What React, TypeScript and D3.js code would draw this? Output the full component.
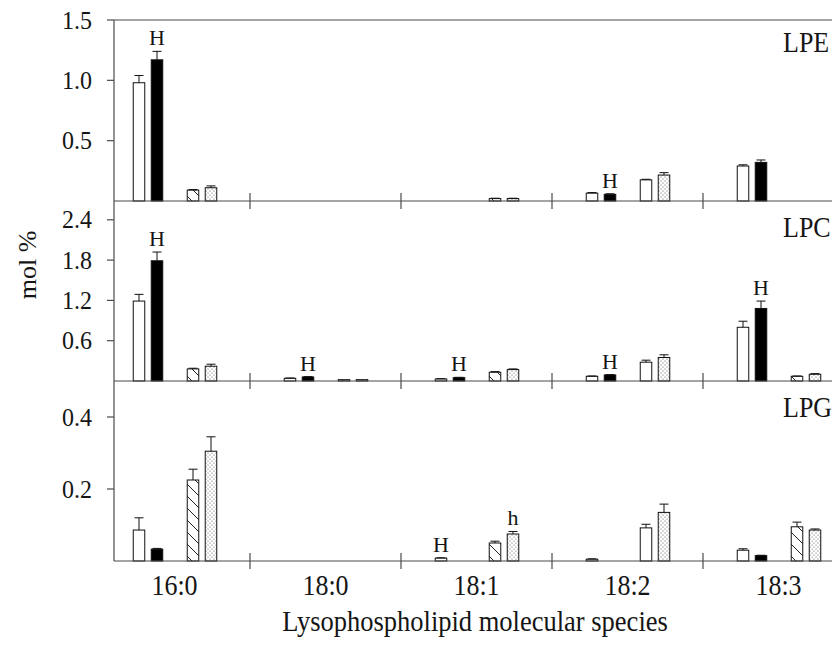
import React from "react";
import * as d3 from "d3";

// ---------- data ----------
const categories = ["16:0", "18:0", "18:1", "18:2", "18:3"];
const seriesKeys = ["s0", "s1", "s2", "s3"]; // white, black, hatched, dotted

// rows: categories, columns: series
const lpeMeans = [
  [0.98, 1.17, 0.09, 0.11],
  [0, 0, 0, 0],
  [0, 0, 0.02, 0.02],
  [0.065, 0.055, 0.175, 0.215],
  [0.29, 0.32, 0, 0],
];
const lpeErrors = [
  [0.06, 0.07, 0.005, 0.015],
  [0, 0, 0, 0],
  [0, 0, 0.003, 0.003],
  [0.005, 0.005, 0.005, 0.02],
  [0.01, 0.02, 0, 0],
];
const lpcMeans = [
  [1.19, 1.79, 0.18, 0.22],
  [0.04, 0.06, 0.02, 0.02],
  [0.03, 0.05, 0.13, 0.17],
  [0.07, 0.09, 0.28, 0.35],
  [0.8, 1.08, 0.07, 0.1],
];
const lpcErrors = [
  [0.1, 0.13, 0.01, 0.03],
  [0.005, 0.005, 0, 0],
  [0.005, 0.005, 0.01, 0.01],
  [0.005, 0.005, 0.03, 0.04],
  [0.09, 0.11, 0.005, 0.01],
];
const lpgMeans = [
  [0.086, 0.033, 0.225, 0.305],
  [0, 0, 0, 0],
  [0.008, 0, 0.05, 0.075],
  [0.005, 0, 0.092, 0.135],
  [0.03, 0.015, 0.095, 0.086],
];
const lpgErrors = [
  [0.034, 0.002, 0.03, 0.04],
  [0, 0, 0, 0],
  [0.001, 0, 0.005, 0.007],
  [0.001, 0, 0.01, 0.023],
  [0.004, 0.001, 0.013, 0.003],
];

const lpeTicks = [0.5, 1.0, 1.5];
const lpcTicks = [0.6, 1.2, 1.8, 2.4];
const lpgTicks = [0.2, 0.4];

const panelNames = ["LPE", "LPC", "LPG"];
// third series drawn plain in these categories
const plainThirdCategories = ["18:2"];

const annotations = [
  { panel: "LPE", category: "16:0", series: 1, text: "H" },
  { panel: "LPE", category: "18:2", series: 1, text: "H" },
  { panel: "LPC", category: "16:0", series: 1, text: "H" },
  { panel: "LPC", category: "18:0", series: 1, text: "H" },
  { panel: "LPC", category: "18:1", series: 1, text: "H" },
  { panel: "LPC", category: "18:2", series: 1, text: "H" },
  { panel: "LPC", category: "18:3", series: 1, text: "H" },
  { panel: "LPG", category: "18:1", series: 0, text: "H" },
  { panel: "LPG", category: "18:1", series: 3, text: "h" },
];

const xTitle = "Lysophospholipid molecular species";
const yTitle = "mol %";

// ---------- layout ----------
const W = 832;
const H = 647;
const axisX = 114;
const rightX = 832;
const FONT = "'Liberation Serif', 'Times New Roman', serif";
const LINE = "#4a4a4a";
const TXT = "#151515";

const panels = [
  { name: panelNames[0], means: lpeMeans, errors: lpeErrors, max: 1.5, ticks: lpeTicks, top: 20, bottom: 201, fmt: ".1f", labelY: 52 },
  { name: panelNames[1], means: lpcMeans, errors: lpcErrors, max: 2.68, ticks: lpcTicks, top: 201, bottom: 381, fmt: ".1f", labelY: 237 },
  { name: panelNames[2], means: lpgMeans, errors: lpgErrors, max: 0.5, ticks: lpgTicks, top: 381, bottom: 561, fmt: ".1f", labelY: 417 },
];

const x0 = d3.scaleBand<string>().domain(categories).range([99, 99 + 151 * categories.length]).paddingInner(0).paddingOuter(0);
const slots = ["s0", "s1", "gap", "s2", "s3"];
const x1 = d3.scaleBand<string>().domain(slots).range([31, 121]).paddingInner(0.36).paddingOuter(0.18);

const fills = ["#ffffff", "#000000", "url(#hatch)", "url(#dots)"];

// text slightly stretched vertically like the reference
function T(props: { x: number; y: number; size: number; anchor?: string; sy?: number; children: React.ReactNode; dy?: string }) {
  const sy = props.sy ?? 1.1;
  return (
    <text
      transform={`translate(${props.x},${props.y}) scale(1,${sy})`}
      textAnchor={props.anchor ?? "start"}
      fontSize={props.size}
      dy={props.dy}
      fill={TXT}
    >
      {props.children}
    </text>
  );
}

export default function App() {
  return (
    <svg
      width={W}
      height={H}
      viewBox={`0 0 ${W} ${H}`}
      style={{ position: "absolute", left: 0, top: 0, background: "#fff" }}
      fontFamily={FONT}
    >
      <defs>
        <pattern id="hatch" patternUnits="userSpaceOnUse" width={12} height={12}>
          <rect width={12} height={12} fill="#fff" />
          <path d="M0,0 L12,12 M-6,6 L6,18 M6,-6 L18,6" stroke="#222" strokeWidth={1} />
        </pattern>
        <pattern id="dots" patternUnits="userSpaceOnUse" width={4} height={4}>
          <rect width={4} height={4} fill="#fff" />
          <circle cx={1} cy={1} r={0.6} fill="#555" />
          <circle cx={3} cy={3} r={0.6} fill="#555" />
        </pattern>
      </defs>
      <rect width={W} height={H} fill="#fff" />

      {panels.map((p) => {
        const y = d3.scaleLinear().domain([0, p.max]).range([p.bottom, p.top]);
        const fmt = d3.format(p.fmt);
        return (
          <g key={p.name}>
            {/* bars */}
            {categories.map((c, ci) => (
              <g key={c} transform={`translate(${x0(c)},0)`}>
                {seriesKeys.map((s, si) => {
                  const v = p.means[ci][si];
                  if (!(v > 0)) return null;
                  const e = p.errors[ci][si];
                  const bx = x1(s)!;
                  const bw = x1.bandwidth();
                  const yt = y(v);
                  const ye = y(v + e);
                  let fill = fills[si];
                  if (si === 2 && plainThirdCategories.includes(c)) fill = "#ffffff";
                  return (
                    <g key={s}>
                      <rect x={bx} y={yt} width={bw} height={p.bottom - yt} fill={fill} stroke="#111" strokeWidth={1} />
                      {e > 0 && p.bottom - ye > 1 && (
                        <g stroke="#111" strokeWidth={1}>
                          <line x1={bx + bw / 2} x2={bx + bw / 2} y1={yt} y2={ye} />
                          <line x1={bx + bw / 2 - 4.5} x2={bx + bw / 2 + 4.5} y1={ye} y2={ye} />
                        </g>
                      )}
                    </g>
                  );
                })}
              </g>
            ))}

            {/* annotations */}
            {annotations
              .filter((a) => a.panel === p.name)
              .map((a, i) => {
                const ci = categories.indexOf(a.category);
                const v = p.means[ci][a.series] + p.errors[ci][a.series];
                const cx = x0(a.category)! + x1(seriesKeys[a.series])! + x1.bandwidth() / 2;
                return (
                  <T key={i} x={cx} y={y(v) - 6} size={22} anchor="middle" sy={1}>
                    {a.text}
                  </T>
                );
              })}

            {/* baseline */}
            <line x1={axisX} x2={rightX} y1={p.bottom} y2={p.bottom} stroke={LINE} strokeWidth={1.2} />
            {categories.slice(1).map((c) => (
              <line key={c} x1={x0(c)} x2={x0(c)} y1={p.bottom - 8} y2={p.bottom + 8} stroke={LINE} strokeWidth={1.2} />
            ))}

            {/* y ticks */}
            {p.ticks.map((t) => (
              <g key={t}>
                <line x1={axisX - 7} x2={axisX} y1={y(t)} y2={y(t)} stroke={LINE} strokeWidth={1.2} />
                <T x={92} y={y(t) + 8.5} size={24} anchor="end" sy={1.05}>
                  {fmt(t)}
                </T>
              </g>
            ))}

            {/* panel label */}
            <T x={783} y={p.labelY} size={26}>
              {p.name}
            </T>
          </g>
        );
      })}

      {/* top frame line and left axis */}
      <line x1={axisX} x2={rightX} y1={panels[0].top} y2={panels[0].top} stroke={LINE} strokeWidth={1.2} />
      <line x1={axisX} x2={axisX} y1={panels[0].top} y2={panels[2].bottom} stroke={LINE} strokeWidth={1.2} />

      {/* x category labels */}
      {categories.map((c) => (
        <T key={c} x={x0(c)! + x0.bandwidth() / 2} y={595} size={26} anchor="middle" sy={1.12}>
          {c}
        </T>
      ))}

      {/* titles */}
      <T x={475} y={631} size={26.5} anchor="middle" sy={1.08}>
        {xTitle}
      </T>
      <text transform="translate(36,265) rotate(-90)" textAnchor="middle" fontSize={26} fill={TXT}>
        {yTitle}
      </text>
    </svg>
  );
}
